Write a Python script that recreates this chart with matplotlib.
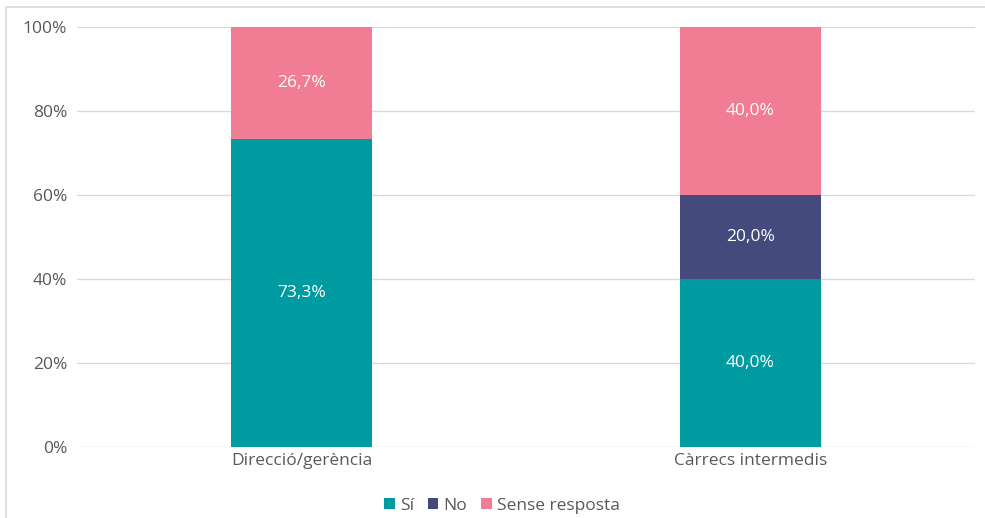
import matplotlib.pyplot as plt
from matplotlib.patches import Rectangle
from matplotlib.ticker import PercentFormatter

plt.rcParams["font.family"] = ["Open Sans", "DejaVu Sans"]

categories = ["Direcció/gerència", "Càrrecs intermedis"]
series_names = ["Sí", "No", "Sense resposta"]
si = [73.3, 40.0]
no = [0.0, 20.0]
sense = [26.7, 40.0]
colors = ["#009BA1", "#444B7C", "#F07D93"]

fig = plt.figure(figsize=(9.85, 5.18), dpi=100)
ax = fig.add_axes([77 / 985, 1 - 447 / 518, 898 / 985, 420 / 518])

x = range(len(categories))
bottom = [0.0, 0.0]
for name, vals, col in zip(series_names, [si, no, sense], colors):
    bars = ax.bar(x, vals, width=0.312, bottom=bottom, color=col, label=name, zorder=3)
    for b, v, b0 in zip(bars, vals, bottom):
        if v > 0:
            ax.text(b.get_x() + b.get_width() / 2, b0 + v / 2,
                    f"{v:.1f}%".replace(".", ","), ha="center", va="center",
                    color="white", fontsize=12.5, zorder=4)
    bottom = [a + v for a, v in zip(bottom, vals)]

ax.set_xlim(-0.5, 1.5)
ax.set_ylim(0, 100)
ax.set_yticks(range(0, 101, 20))
ax.yaxis.set_major_formatter(PercentFormatter(decimals=0))
ax.set_xticks(list(x))
ax.set_xticklabels(categories)
ax.tick_params(axis="both", length=0, labelsize=12.5, colors="#595959")
ax.tick_params(axis="y", pad=7)
ax.tick_params(axis="x", pad=4)
ax.grid(axis="y", color="#D9D9D9", linewidth=1, zorder=0)
for s in ax.spines.values():
    s.set_visible(False)

fig.legend(loc="center", bbox_to_anchor=(502 / 985, 1 - 506 / 518), ncol=3, frameon=False,
           fontsize=12.5, handlelength=0.6, handleheight=0.6, handletextpad=0.3,
           columnspacing=0.8, labelcolor="#595959")

fig.patches.append(Rectangle((6 / 985, -0.1), 1.2, 1 - 7 / 518 + 0.1, transform=fig.transFigure,
                             fill=False, edgecolor="#D9D9D9", linewidth=1.2))

fig.savefig("out.png", dpi=100)
